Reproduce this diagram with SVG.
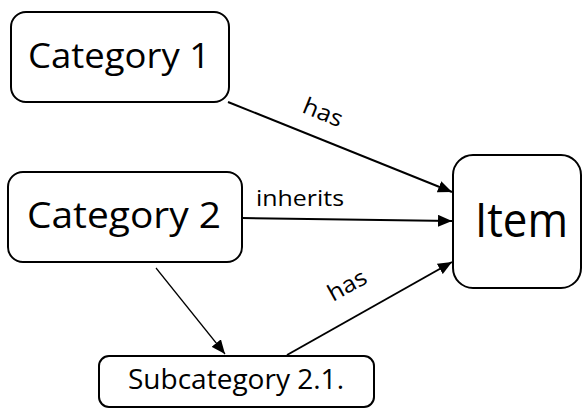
<svg xmlns="http://www.w3.org/2000/svg" width="584" height="408" viewBox="0 0 584 408">
  <style>
    .box { fill: #ffffff; stroke: #000000; stroke-width: 2; }
    .label { font-family: "Open Sans", "Noto Sans", sans-serif; fill: #000000; }
    .edge { stroke: #000000; fill: none; }
    .thick { stroke-width: 2; }
    .thin { stroke-width: 1.2; }
  </style>
  <defs>
    <marker id="arrow" viewBox="0 0 14 12" refX="14" refY="6" markerWidth="14" markerHeight="12" markerUnits="userSpaceOnUse" orient="auto">
      <path d="M0,0 L14,6 L0,12 Z" fill="#000000"/>
    </marker>
  </defs>
  <rect width="584" height="408" fill="#ffffff"/>

  <g id="connectors">
    <line class="edge thick" x1="228" y1="102" x2="452" y2="192" marker-end="url(#arrow)"/>
    <line class="edge thick" x1="242" y1="218" x2="452" y2="221" marker-end="url(#arrow)"/>
    <line class="edge thin" x1="156" y1="268" x2="225" y2="354" marker-end="url(#arrow)"/>
    <line class="edge thick" x1="287" y1="355" x2="452" y2="262" marker-end="url(#arrow)"/>
    <text class="label" font-size="23" transform="translate(301,112) rotate(22)" textLength="41" lengthAdjust="spacingAndGlyphs">has</text>
    <text class="label" font-size="22" x="256" y="206" textLength="88" lengthAdjust="spacingAndGlyphs">inherits</text>
    <text class="label" font-size="23" transform="translate(333,302) rotate(-29)" textLength="41" lengthAdjust="spacingAndGlyphs">has</text>
  </g>

  <g id="category1">
    <rect class="box" x="11" y="12" width="218" height="90" rx="15"/>
    <text class="label" font-size="35" x="28" y="68" textLength="182" lengthAdjust="spacingAndGlyphs">Category 1</text>
  </g>

  <g id="category2">
    <rect class="box" x="8" y="172" width="234" height="90" rx="15"/>
    <text class="label" font-size="36" x="27" y="228" textLength="194" lengthAdjust="spacingAndGlyphs">Category 2</text>
  </g>

  <g id="item">
    <rect class="box" x="453" y="155" width="128" height="133" rx="20"/>
    <text class="label" font-size="48" x="475" y="237" textLength="93" lengthAdjust="spacingAndGlyphs">Item</text>
  </g>

  <g id="subcategory">
    <rect class="box" x="99" y="356" width="275" height="51" rx="10"/>
    <text class="label" font-size="28" x="128" y="389" textLength="216" lengthAdjust="spacingAndGlyphs">Subcategory 2.1.</text>
  </g>
</svg>
